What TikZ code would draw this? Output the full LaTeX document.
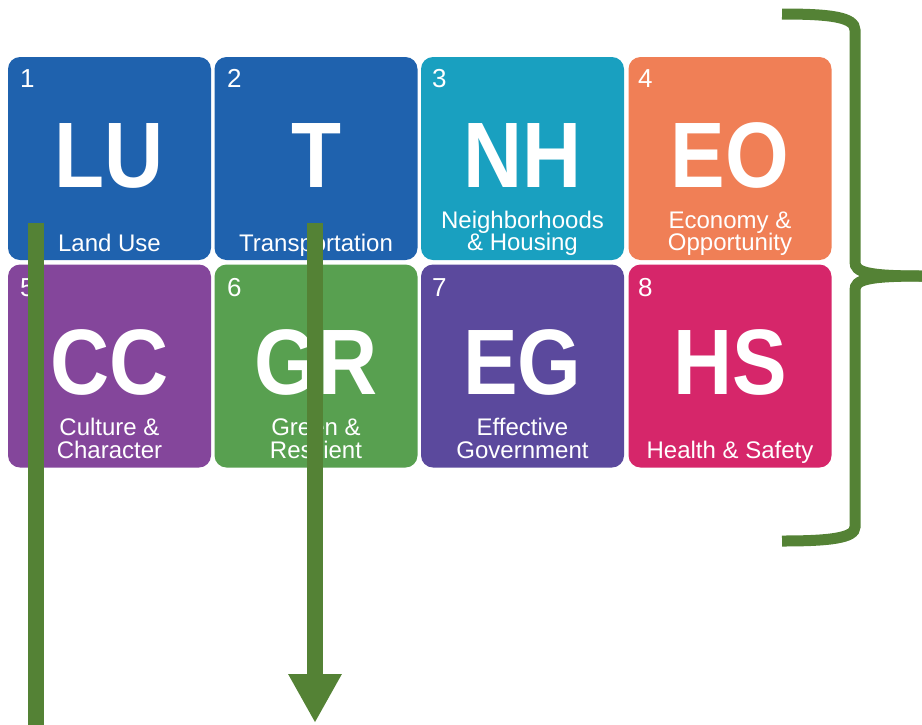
\documentclass[tikz,border=0pt]{standalone}
\usepackage{fontspec}
\usepackage{graphicx}
\setmainfont{Liberation Sans}
\usetikzlibrary{arrows.meta}

\definecolor{luBlue}{RGB}{31,98,174}
\definecolor{nhTeal}{RGB}{25,160,192}
\definecolor{eoOrange}{RGB}{240,127,86}
\definecolor{ccPurple}{RGB}{132,70,155}
\definecolor{grGreen}{RGB}{88,160,80}
\definecolor{egViolet}{RGB}{91,73,157}
\definecolor{hsMagenta}{RGB}{214,38,106}
\definecolor{markGreen}{RGB}{84,130,53}

\tikzset{
  tile/.style={rounded corners=12pt, minimum width=203pt, minimum height=203pt,
    inner sep=0pt, draw=none},
  tilenum/.style={anchor=base west, inner sep=0pt, text=white,
    font=\fontsize{26}{26}\selectfont},
  tilecode/.style={anchor=base, inner sep=0pt, text=white,
    font=\fontsize{93}{93}\selectfont\bfseries},
  tilelabel/.style={anchor=base, inner sep=0pt, text=white,
    font=\fontsize{24}{24}\selectfont},
  marker/.style={draw=markGreen, line width=16pt},
  brace/.style={draw=markGreen, line width=11pt}
}
\newcommand{\squeeze}[1]{\scalebox{0.88}[1]{#1}}

\begin{document}
\begin{tikzpicture}[x=1pt,y=-1pt]
\useasboundingbox (0,0) rectangle (922,724);

% tiles (centres)
\node[tile, fill=luBlue]    (t1) at (109.5,158.5) {};
\node[tile, fill=luBlue]    (t2) at (316,158.5) {};
\node[tile, fill=nhTeal]    (t3) at (522.5,158.5) {};
\node[tile, fill=eoOrange]  (t4) at (730,158.5) {};
\node[tile, fill=ccPurple]  (t5) at (109.5,366) {};
\node[tile, fill=grGreen]   (t6) at (316,366) {};
\node[tile, fill=egViolet]  (t7) at (522.5,366) {};
\node[tile, fill=hsMagenta] (t8) at (730,366) {};

% numbers
\node[tilenum] (n1) at (20,87) {1};
\node[tilenum] (n2) at (227,87) {2};
\node[tilenum] (n3) at (432,87) {3};
\node[tilenum] (n4) at (638,87) {4};
\node[tilenum] (n5) at (20,296) {5};
\node[tilenum] (n6) at (227,296) {6};
\node[tilenum] (n7) at (432,296) {7};
\node[tilenum] (n8) at (638,296) {8};

% codes
\node[tilecode] (c1) at (109.5,187) {\squeeze{LU}};
\node[tilecode] (c2) at (316,187) {\squeeze{T}};
\node[tilecode] (c3) at (522.5,187) {\squeeze{NH}};
\node[tilecode] (c4) at (730,187) {\squeeze{EO}};
\node[tilecode] (c5) at (109.5,394) {\squeeze{CC}};
\node[tilecode] (c6) at (316,394) {\squeeze{GR}};
\node[tilecode] (c7) at (522.5,394) {\squeeze{EG}};
\node[tilecode] (c8) at (730,394) {\squeeze{HS}};

% labels
\node[tilelabel] (l1)  at (109.5,251.5) {Land Use};
\node[tilelabel] (l2)  at (316,251.5) {Transportation};
\node[tilelabel] (l3a) at (522.5,228) {Neighborhoods};
\node[tilelabel] (l3b) at (522.5,250.5) {\& Housing};
\node[tilelabel] (l4a) at (730,228) {Economy \&};
\node[tilelabel] (l4b) at (730,250.5) {Opportunity};
\node[tilelabel] (l5a) at (109.5,435.5) {Culture \&};
\node[tilelabel] (l5b) at (109.5,458) {Character};
\node[tilelabel] (l6a) at (316,435.5) {Green \&};
\node[tilelabel] (l6b) at (316,458) {Resilient};
\node[tilelabel] (l7a) at (522.5,435.5) {Effective};
\node[tilelabel] (l7b) at (522.5,458) {Government};
\node[tilelabel] (l8)  at (730,458) {Health \& Safety};

% brace grouping the tiles
\draw[brace] (782,14) .. controls (830,14) and (855,17) .. (855,30)
  -- (855,262) .. controls (855,272) and (866,276) .. (922,276);
\draw[brace] (922,276) .. controls (866,276) and (855,280) .. (855,290)
  -- (855,527) .. controls (855,538) and (830,541) .. (782,541);

% downward markers
\coordinate (m1s) at (35.5,223);
\coordinate (m1e) at (35.5,726);
\coordinate (m2s) at (315,223);
\coordinate (m2e) at (315,723);
\draw[marker] (m1s) -- (m1e);
\draw[marker, -{Triangle[width=50pt,length=49pt]}] (m2s) -- (m2e);
\end{tikzpicture}
\end{document}
